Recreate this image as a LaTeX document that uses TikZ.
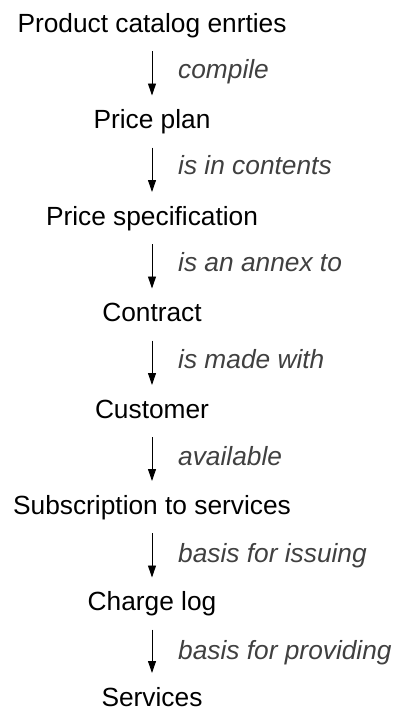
\documentclass[tikz,border=0pt]{standalone}
\usepackage{fontspec}
\setmainfont{Liberation Sans}
\usetikzlibrary{arrows.meta}
\definecolor{lblgray}{RGB}{64,64,64}
\tikzset{
  item/.style={anchor=base, inner sep=0pt, font=\fontsize{26.3}{30}\selectfont},
  rel/.style={anchor=base west, inner sep=0pt, text=lblgray, font=\fontsize{26.3}{30}\selectfont\itshape},
  arr/.style={draw=black, line width=0.9pt, -{Triangle[length=12pt,width=8pt]}, shorten <=19pt, shorten >=33pt}
}
\begin{document}
\begin{tikzpicture}[x=1pt,y=-1pt]
\useasboundingbox (0,0) rectangle (405,726);
\node[item] (n1) at (152,32) {Product catalog enrties};
\node[item] (n2) at (152,128.5) {Price plan};
\node[item] (n3) at (152,225) {Price specification};
\node[item] (n4) at (152,321.5) {Contract};
\node[item] (n5) at (152,418) {Customer};
\node[item] (n6) at (152,514) {Subscription to services};
\node[item] (n7) at (152,610.5) {Charge log};
\node[item] (n8) at (152,706) {Services};
\node[rel] (l1) at (178,78) {compile};
\node[rel] (l2) at (178,174.5) {is in contents};
\node[rel] (l3) at (178,271) {is an annex to};
\node[rel] (l4) at (178,368) {is made with};
\node[rel] (l5) at (178,465) {available};
\node[rel] (l6) at (178,562) {basis for issuing};
\node[rel] (l7) at (178,659) {basis for providing};
\draw[arr] (n1.base) -- (n2.base);
\draw[arr] (n2.base) -- (n3.base);
\draw[arr] (n3.base) -- (n4.base);
\draw[arr] (n4.base) -- (n5.base);
\draw[arr] (n5.base) -- (n6.base);
\draw[arr] (n6.base) -- (n7.base);
\draw[arr] (n7.base) -- (n8.base);
\end{tikzpicture}
\end{document}
